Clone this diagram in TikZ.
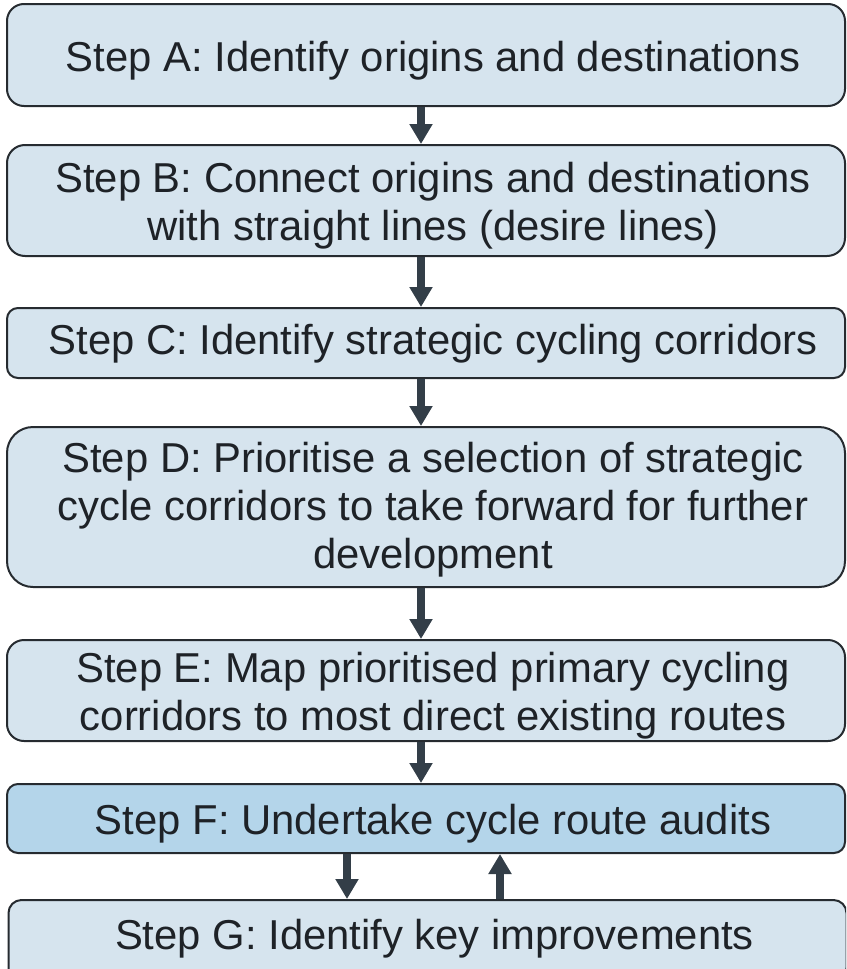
\documentclass[tikz,border=0pt]{standalone}
\usepackage{fontspec}
\setmainfont{Liberation Sans}
\usetikzlibrary{arrows.meta}

\definecolor{boxfill}{HTML}{D6E4EE}
\definecolor{boxhigh}{HTML}{B4D5EA}
\definecolor{boxline}{HTML}{262B30}
\definecolor{arrowcol}{HTML}{333E48}
\definecolor{txtcol}{HTML}{1E2227}

\tikzset{
  stepbox/.style={draw=boxline,line width=1pt,fill=boxfill,
    minimum width=419pt,inner sep=0pt},
  steptext/.style={text=txtcol,inner sep=0pt,align=center,xshift=3.5pt,
    font=\fontsize{20.9}{24.1}\selectfont},
  flow/.style={draw=arrowcol,line width=4pt,
    -{Triangle[width=11pt,length=10pt]}}
}

\begin{document}
\begin{tikzpicture}[x=0.5pt,y=-0.5pt]
\useasboundingbox (0,0) rectangle (846,969);
\clip (0,0) rectangle (846,969);

% the seven steps, top to bottom
\node[stepbox,minimum height=51pt,rounded corners=8.5pt,
  label={[steptext,yshift=-3pt,name=textA]center:{Step A: Identify origins and destinations}}]
  (stepA) at (426,55) {};
\node[stepbox,minimum height=55.5pt,rounded corners=9pt,
  label={[steptext,yshift=-2.5pt,name=textB]center:{Step B: Connect origins and destinations\\with straight lines (desire lines)}}]
  (stepB) at (426,200.5) {};
\node[stepbox,minimum height=35pt,rounded corners=5.5pt,
  label={[steptext,yshift=-0.5pt,name=textC]center:{Step C: Identify strategic cycling corridors}}]
  (stepC) at (426,343) {};
\node[stepbox,minimum height=80pt,rounded corners=13pt,
  label={[steptext,yshift=-1.25pt,name=textD]center:{Step D: Prioritise a selection of strategic\\cycle corridors to take forward for further\\development}}]
  (stepD) at (426,507) {};
\node[stepbox,minimum height=50.5pt,rounded corners=8.5pt,
  label={[steptext,yshift=-2.75pt,name=textE]center:{Step E: Map prioritised primary cycling\\corridors to most direct existing routes}}]
  (stepE) at (426,690.5) {};
\node[stepbox,fill=boxhigh,minimum height=34.5pt,rounded corners=5.5pt,
  label={[steptext,yshift=-2.75pt,name=textF]center:{Step F: Undertake cycle route audits}}]
  (stepF) at (426,818.5) {};
\node[stepbox,minimum height=40.5pt,rounded corners=6.5pt,
  label={[steptext,yshift=0.75pt,name=textG]center:{Step G: Identify key improvements}}]
  (stepG) at (427.5,940.5) {};

% arrows between the steps
\draw[flow] ([xshift=-2.5pt]stepA.south) -- ([xshift=-2.5pt]stepB.north);
\draw[flow] ([xshift=-2.5pt]stepB.south) -- ([xshift=-2.5pt]stepC.north);
\draw[flow] ([xshift=-2.5pt]stepC.south) -- ([xshift=-2.5pt]stepD.north);
\draw[flow] ([xshift=-2.5pt]stepD.south) -- ([xshift=-2.5pt]stepE.north);
\draw[flow] ([xshift=-2.5pt]stepE.south) -- ([xshift=-2.5pt]stepF.north);

% audit loop between F and G
\draw[flow] ([xshift=-39.5pt]stepF.south) -- ([xshift=-40.25pt]stepG.north);
\draw[flow] ([xshift=36.25pt]stepG.north) -- ([xshift=37pt]stepF.south);
\end{tikzpicture}
\end{document}
